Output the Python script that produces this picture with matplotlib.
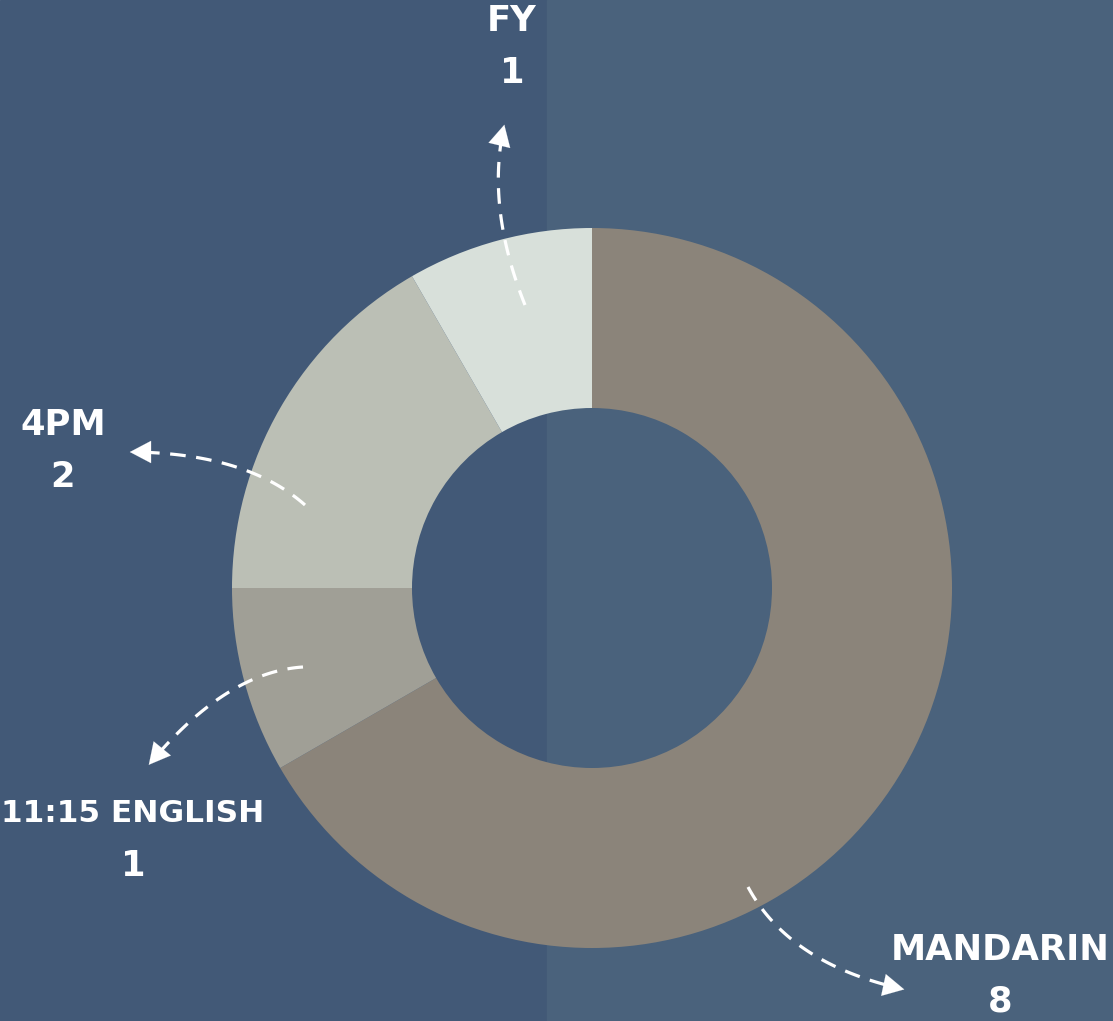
import numpy as np
import matplotlib
matplotlib.use("Agg")
import matplotlib.pyplot as plt
from matplotlib.patches import Rectangle

labels = ['MANDARIN', '11:15 ENGLISH', '4PM', 'FY']
values = [8, 1, 2, 1]
colors = ['#8b847a', '#a09f96', '#bbbfb5', '#d8e0da']

W, H = 1113, 1021
fig = plt.figure(figsize=(W / 100, H / 100), dpi=100)
ax = fig.add_axes([0, 0, 1, 1])

# two-tone background
ax.add_patch(Rectangle((0, 0), 547, H, color='#425977', zorder=0))
ax.add_patch(Rectangle((547, 0), W - 547, H, color='#4a627c', zorder=0))

cx, cy, r = 592, H - 588, 360
ax.pie(values, colors=colors, startangle=90, counterclock=False,
       center=(cx, cy), radius=r,
       wedgeprops=dict(width=180, linewidth=0))

ax.set_xlim(0, W)
ax.set_ylim(0, H)
ax.set_aspect('equal')
ax.axis('off')

# dashed curved pointers (pixel coords, y down): start, control, end
arrows = {
    'FY': [(525, 305), (485, 205), (505, 122)],
    '4PM': [(305, 505), (245, 452), (127, 452)],
    '11:15 ENGLISH': [(303, 667), (225, 672), (147, 767)],
    'MANDARIN': [(748, 887), (790, 965), (907, 990)],
}
t = np.linspace(0, 1, 80)
for name, pts in arrows.items():
    p0, c, p2 = [np.array((x, H - y), float) for x, y in pts]
    curve = ((1 - t)[:, None] ** 2 * p0 + 2 * ((1 - t) * t)[:, None] * c
             + (t ** 2)[:, None] * p2)
    ax.plot(curve[:-5, 0], curve[:-5, 1], color='white', lw=2.3,
            ls=(0, (4.9, 3.3)), zorder=3)
    d = (p2 - c) / np.linalg.norm(p2 - c)
    ax.annotate('', xy=p2, xytext=p2 - d * 14,
                arrowprops=dict(arrowstyle='-|>,head_length=0.95,head_width=0.5',
                                color='white', lw=0.1, mutation_scale=16),
                zorder=4)

# labels: name, value, x, y of name, y of value, size
texts = [
    ('FY', '1', 512, 21, 73, 25.5),
    ('4PM', '2', 63, 425, 477, 25.5),
    ('11:15 ENGLISH', '1', 133, 813, 866, 22.5),
    ('MANDARIN', '8', 1000, 950, 1002, 25.5),
]
for name, val, x, y1, y2, fs in texts:
    ax.text(x, H - y1, name, color='white', fontsize=fs, fontweight='bold',
            family='DejaVu Sans', ha='center', va='center', zorder=5)
    ax.text(x, H - y2, val, color='white', fontsize=25.5, fontweight='bold',
            family='DejaVu Sans', ha='center', va='center', zorder=5)

fig.savefig('out.png', dpi=100)
